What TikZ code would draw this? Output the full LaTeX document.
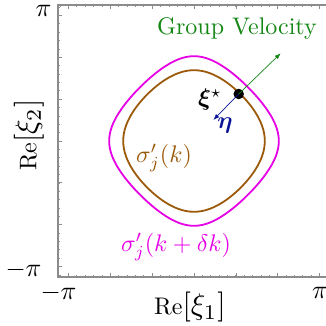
\documentclass[tikz,border=0pt]{standalone}
\usepackage{amsmath,bm,graphicx}
\usetikzlibrary{arrows.meta}
\definecolor{cbrown}{RGB}{155,90,10}
\definecolor{cmag}{RGB}{230,0,230}
\definecolor{cgreen}{RGB}{20,135,20}
\definecolor{cblue}{RGB}{10,20,150}
\definecolor{cframe}{RGB}{140,140,140}
\newcommand{\axlabel}[1]{$\mathop{\scalebox{0.8}{$\mathrm{Re}$}}[\xi_{#1}]$}
\tikzset{
  txt/.style={inner sep=0pt,font=\normalsize,transform shape},
  axl/.style={txt,scale=3},
  tkl/.style={txt,scale=2.6},
  mlbl/.style={txt,scale=2.4},
  curve/.style={line width=1.8pt},
  tk/.style={cframe,line width=0.7pt},
  vec/.style={line width=0.7pt,-{Latex[length=6pt,width=4.5pt]}}
}
\begin{document}
\begin{tikzpicture}[x=41.85pt,y=41.85pt]
\useasboundingbox (-194pt,-185pt) rectangle (131pt,141pt);
% frame
\draw[cframe,line width=1.2pt] (-3.25,-3.25) rectangle (3.25,3.25);
% ticks
\foreach \v in {-3.2,-3.0,...,3.21}{
  \draw[tk] (\v,-3.25) -- ++(0,0.05);
  \draw[tk] (\v,3.25) -- ++(0,-0.05);
  \draw[tk] (-3.25,\v) -- ++(0.05,0);
}
\foreach \v in {-3,...,3}{
  \draw[tk] (\v,-3.25) -- ++(0,0.1);
  \draw[tk] (\v,3.25) -- ++(0,-0.1);
  \draw[tk] (-3.25,\v) -- ++(0.1,0);
}
% curves cos x + cos y = c
\def\cc{0.88}\def\bb{0.55989}
\draw[curve,cbrown]
  plot[domain=0:180,samples=91,variable=\t] ({rad(acos(\cc/2+\bb*cos(\t)))},{rad(acos(\cc/2-\bb*cos(\t)))})
  -- plot[domain=180:0,samples=91,variable=\t] ({rad(acos(\cc/2+\bb*cos(\t)))},{-rad(acos(\cc/2-\bb*cos(\t)))})
  -- plot[domain=0:180,samples=91,variable=\t] ({-rad(acos(\cc/2+\bb*cos(\t)))},{-rad(acos(\cc/2-\bb*cos(\t)))})
  -- plot[domain=180:0,samples=91,variable=\t] ({-rad(acos(\cc/2+\bb*cos(\t)))},{rad(acos(\cc/2-\bb*cos(\t)))})
  -- cycle;
\def\cc{0.56}\def\bb{0.71986}
\draw[curve,cmag]
  plot[domain=0:180,samples=91,variable=\t] ({rad(acos(\cc/2+\bb*cos(\t)))},{rad(acos(\cc/2-\bb*cos(\t)))})
  -- plot[domain=180:0,samples=91,variable=\t] ({rad(acos(\cc/2+\bb*cos(\t)))},{-rad(acos(\cc/2-\bb*cos(\t)))})
  -- plot[domain=0:180,samples=91,variable=\t] ({-rad(acos(\cc/2+\bb*cos(\t)))},{-rad(acos(\cc/2-\bb*cos(\t)))})
  -- plot[domain=180:0,samples=91,variable=\t] ({-rad(acos(\cc/2+\bb*cos(\t)))},{rad(acos(\cc/2-\bb*cos(\t)))})
  -- cycle;
% point and vectors
\node[circle,fill=black,inner sep=0pt,minimum size=10.5pt] (dot) at (44.7pt,47pt) {};
\coordinate (gend) at (86.7pt,87.7pt);
\coordinate (bend) at (19.3pt,21pt);
\draw[vec,cgreen] (dot.center) -- (gend);
\draw[vec,cblue] (dot.center) -- (bend);
% labels
\node[mlbl,cgreen] (gv) at (43pt,112.5pt) {Group Velocity};
\node[mlbl] (xi) at (16pt,41pt) {$\bm{\xi}^{\star}$};
\node[mlbl,cblue] (eta) at (31pt,15pt) {$\bm{\eta}$};
\node[mlbl,cbrown] (s1) at (-30pt,-17pt) {$\sigma'_j(k)$};
\node[mlbl,cmag] (s2) at (-18pt,-106pt) {$\sigma'_j(k+\delta k)$};
\node[axl] (xl) at (-4pt,-166pt) {\axlabel{1}};
\node[axl,rotate=90] (yl) at (-165pt,6pt) {\axlabel{2}};
\node[tkl] (tpy) at (-150.5pt,130.5pt) {$\pi$};
\node[tkl] (tmy) at (-170.5pt,-129pt) {$-\pi$};
\node[tkl] (tmx) at (-135.5pt,-152pt) {$-\pi$};
\node[tkl] (tpx) at (126pt,-152pt) {$\pi$};
\end{tikzpicture}
\end{document}
